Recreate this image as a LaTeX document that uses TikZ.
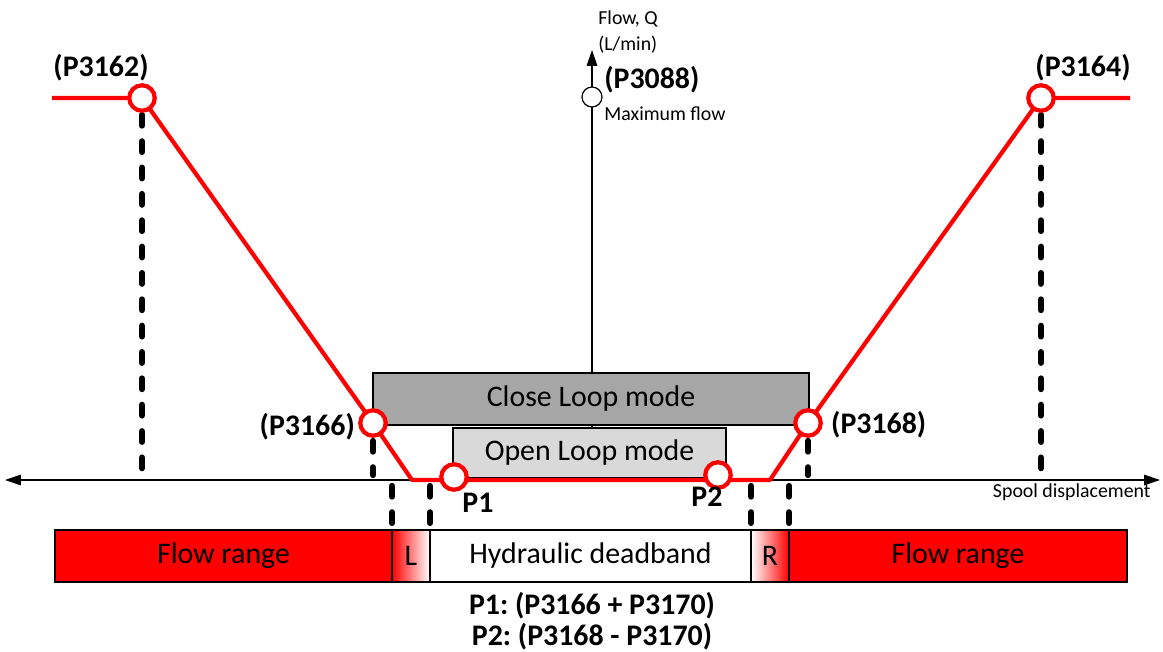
\documentclass[tikz,border=0pt]{standalone}
\usepackage{fontspec}
\setmainfont{Carlito}
\usetikzlibrary{arrows.meta}
\frenchspacing
\tikzset{
  big/.style={font=\fontsize{17}{20}\selectfont},
  bigb/.style={font=\fontsize{17}{20}\selectfont\bfseries},
  small/.style={font=\fontsize{11.3}{13}\selectfont},
  redpt/.style={circle, draw=red, line width=2.4pt, fill=white, minimum size=14.5pt, inner sep=0pt},
  guide/.style={line width=3.6pt, line cap=round, dash pattern=on 6pt off 9pt},
  barbox/.style={draw=black, line width=0.8pt},
  modebox/.style={draw=black, line width=0.7pt, big, inner sep=0pt}
}
\begin{document}
\begin{tikzpicture}[x=0.02cm, y=-0.02cm]
\useasboundingbox (0,0) rectangle (1163,652);
% points of the flow curve
\coordinate (L0) at (52,98);
\coordinate (A) at (142,98);
\coordinate (B) at (373,423);
\coordinate (C) at (412,480);
\coordinate (D) at (770,480);
\coordinate (E) at (808,423);
\coordinate (F) at (1041,98);
\coordinate (R0) at (1130,98);
\coordinate (AX1) at (5,480);
\coordinate (AX2) at (1160,480);
\coordinate (AY1) at (592,480);
\coordinate (AY2) at (592,50);
% axes
\draw[line width=0.7pt, {Triangle[length=9pt,width=6pt]}-{Triangle[length=9pt,width=6pt]}] (AX1) -- (AX2);
\draw[line width=0.7pt, -{Triangle[length=9pt,width=6pt]}] (AY1) -- (AY2);
% mode boxes
\node[modebox, fill=black!35, minimum width=436*0.02cm, minimum height=52*0.02cm] (close) at (591,399) {Close Loop mode};
\node[modebox, fill=black!15, minimum width=273*0.02cm, minimum height=50*0.02cm] (open) at (589.5,453) {Open Loop mode};
% dashed guides
\draw[guide] (142,115) -- (142,475);
\draw[guide] (1041,115) -- (1041,475);
\draw[guide] (373,441) -- (373,475);
\draw[guide] (808,441) -- (808,475);
\draw[guide] (392,486) -- (392,528);
\draw[guide] (430,486) -- (430,528);
\draw[guide] (751,486) -- (751,528);
\draw[guide] (789,486) -- (789,528);
% flow curve
\draw[red, line width=2.4pt, line join=round] (L0) -- (A) -- (B) -- (C) -- (D) -- (E) -- (F) -- (R0);
\node[redpt] (pA) at (A) {};
\node[redpt] (pB) at (B) {};
\node[redpt] (pF) at (F) {};
\node[redpt] (pE) at (E) {};
\node[redpt] (p1) at (454,477) {};
\node[redpt] (p2) at (718,475) {};
\node[circle, draw=black, line width=0.7pt, fill=white, minimum size=20*0.02cm, inner sep=0pt] (pmax) at (592,97) {};
% labels
\node[bigb] (t3162) at (101,68) {(P3162)};
\node[bigb] (t3164) at (1083,68) {(P3164)};
\node[bigb, anchor=east] (t3166) at (361,427) {(P3166)};
\node[bigb, anchor=west] (t3168) at (825,425) {(P3168)};
\node[bigb, anchor=west, inner sep=0pt] (t3088) at (604,80) {(P3088)};
\node[small, anchor=west, inner sep=0pt] (tmax) at (604,114) {Maximum flow};
\node[small, anchor=west, inner sep=0pt] (tflow) at (598,19) {Flow, Q};
\node[small, anchor=west, inner sep=0pt] (tunit) at (598,45) {(L/min)};
\node[small, anchor=east, inner sep=0pt] (tspool) at (1151,492) {Spool displacement};
\node[bigb] (tp1) at (478,503) {P1};
\node[bigb] (tp2) at (707,497) {P2};
% bottom bar
\fill[red] (55,530) rectangle (392,582);
\shade[left color=red, right color=white] (392,530) rectangle (430,582);
\shade[left color=white, right color=red] (751,530) rectangle (789,582);
\fill[red] (789,530) rectangle (1127,582);
\draw[barbox] (55,530) rectangle (1127,582);
\draw[barbox] (392,530) -- (392,582);
\draw[barbox] (430,530) -- (430,582);
\draw[barbox] (751,530) -- (751,582);
\draw[barbox] (789,530) -- (789,582);
\node[big] (rangeL) at (223.5,556) {Flow range};
\node[big] (lbl) at (411,556) {L};
\node[big] (dead) at (590.5,556) {Hydraulic deadband};
\node[big] (rbl) at (770,556) {R};
\node[big] (rangeR) at (958,556) {Flow range};
\node[bigb] (f1) at (592,606) {P1: (P3166 + P3170)};
\node[bigb] (f2) at (592,637) {P2: (P3168 - P3170)};
\end{tikzpicture}
\end{document}
